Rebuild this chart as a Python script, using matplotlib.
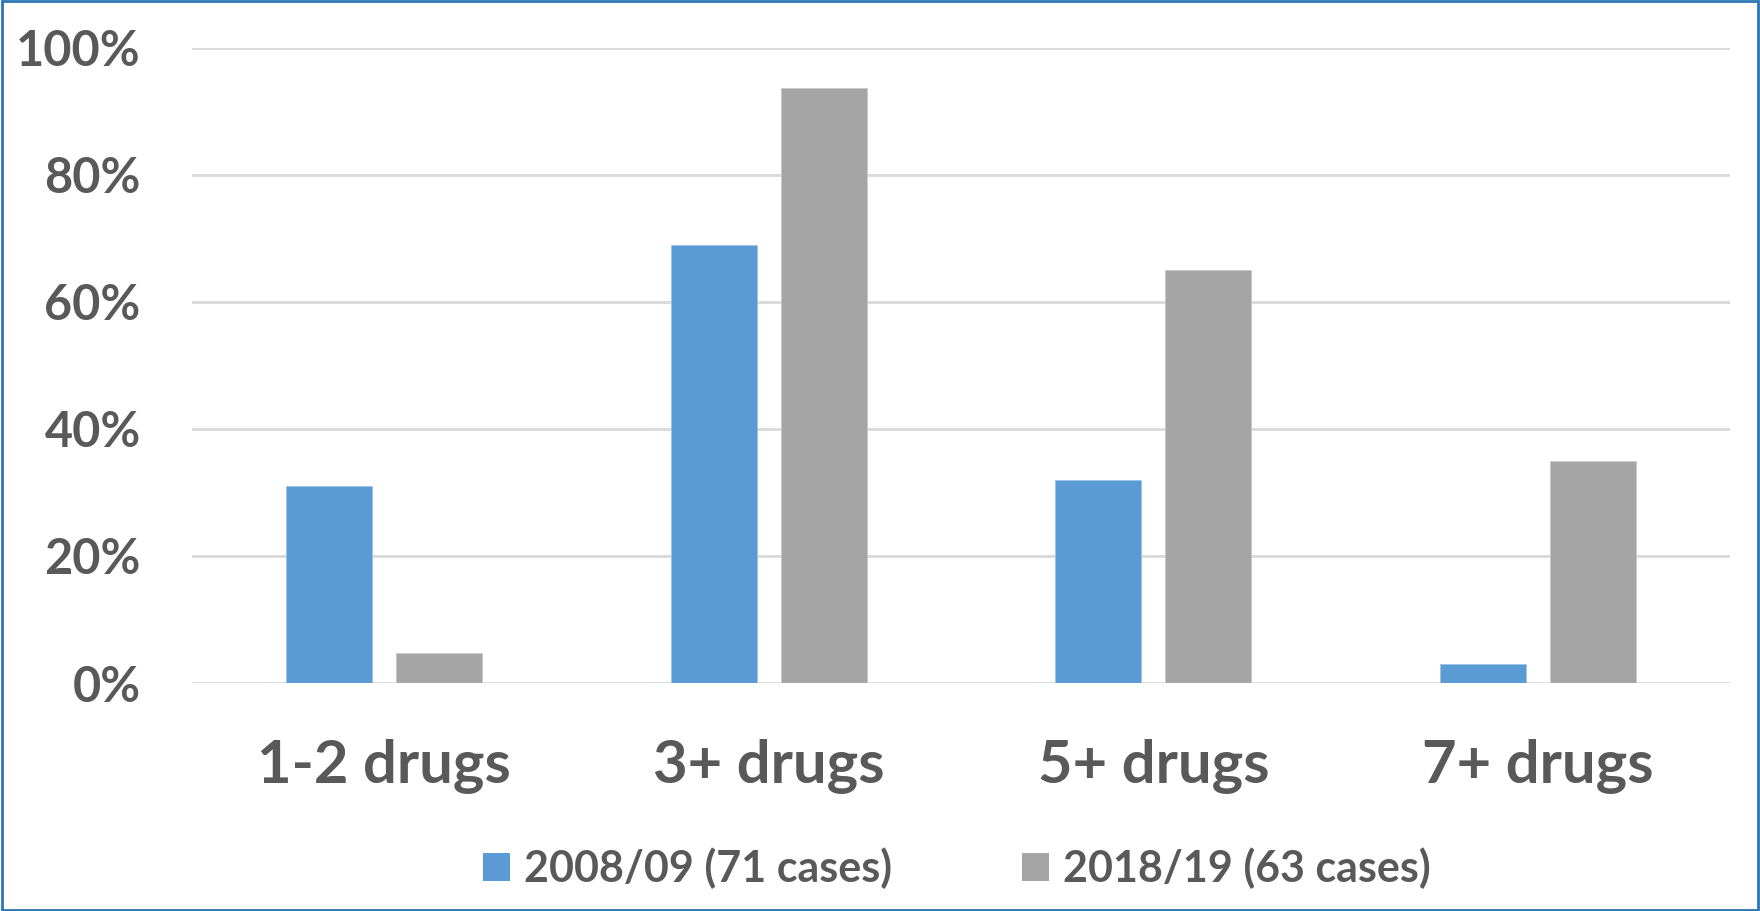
import matplotlib
matplotlib.use("Agg")
import matplotlib.pyplot as plt
from matplotlib.patches import Patch, Rectangle
import numpy as np

categories = ["1-2 drugs", "3+ drugs", "5+ drugs", "7+ drugs"]
series_names = ["2008/09 (71 cases)", "2018/19 (63 cases)"]
values_2008 = [31, 69, 32, 3]
values_2018 = [4.7, 93.7, 65, 35]
y_ticks = [0, 20, 40, 60, 80, 100]
y_tick_labels = ["0%", "20%", "40%", "60%", "80%", "100%"]

BLUE = "#5B9BD5"
GRAY = "#A5A5A5"
TEXT = "#595959"
GRID = "#D9D9D9"
FONT = "Lato"

fig = plt.figure(figsize=(17.6, 9.11), dpi=100)
ax = fig.add_axes([192 / 1760, 1 - 683 / 911, (1730 - 192) / 1760, (683 - 48) / 911])

x = np.arange(len(categories))
width = 0.224
offset = 0.143
ax.bar(x - offset, values_2008, width, color=BLUE, edgecolor="#9DC3E6", linewidth=0.6, zorder=3)
ax.bar(x + offset, values_2018, width, color=GRAY, edgecolor="#C9C9C9", linewidth=0.6, zorder=3)

ax.set_xlim(-0.5, len(categories) - 0.5)
ax.set_ylim(0, 100)
ax.set_yticks(y_ticks)
ax.set_yticklabels(y_tick_labels)
ax.set_xticks(x)
ax.set_xticklabels(categories)

for s in ax.spines.values():
    s.set_visible(False)
ax.yaxis.grid(True, color=GRID, linewidth=2, zorder=0)
ax.set_axisbelow(True)
ax.tick_params(axis="both", length=0)
ax.tick_params(axis="y", pad=37)
ax.tick_params(axis="x", pad=40)
for lab in ax.get_yticklabels():
    lab.set_fontfamily(FONT)
    lab.set_fontweight("bold")
    lab.set_fontsize(35)
    lab.set_color(TEXT)
for lab in ax.get_xticklabels():
    lab.set_fontfamily(FONT)
    lab.set_fontweight("bold")
    lab.set_fontsize(43)
    lab.set_color(TEXT)

handles = [Patch(facecolor=BLUE, edgecolor="none"), Patch(facecolor=GRAY, edgecolor="none")]
leg = fig.legend(handles, series_names, loc="center", bbox_to_anchor=(957 / 1760, 1 - 868 / 911),
                 ncol=2, frameon=False, handlelength=0.63, handleheight=0.63,
                 handletextpad=0.33, columnspacing=3.0,
                 prop={"family": FONT, "weight": "bold", "size": 31})
for t in leg.get_texts():
    t.set_color(TEXT)

# outer chart frame
fig.patches.append(Rectangle((0.001, 0.001), 0.998, 0.998, transform=fig.transFigure,
                             fill=False, edgecolor="#2E75B6", linewidth=2))

fig.savefig("out.png", dpi=100, facecolor="white")
